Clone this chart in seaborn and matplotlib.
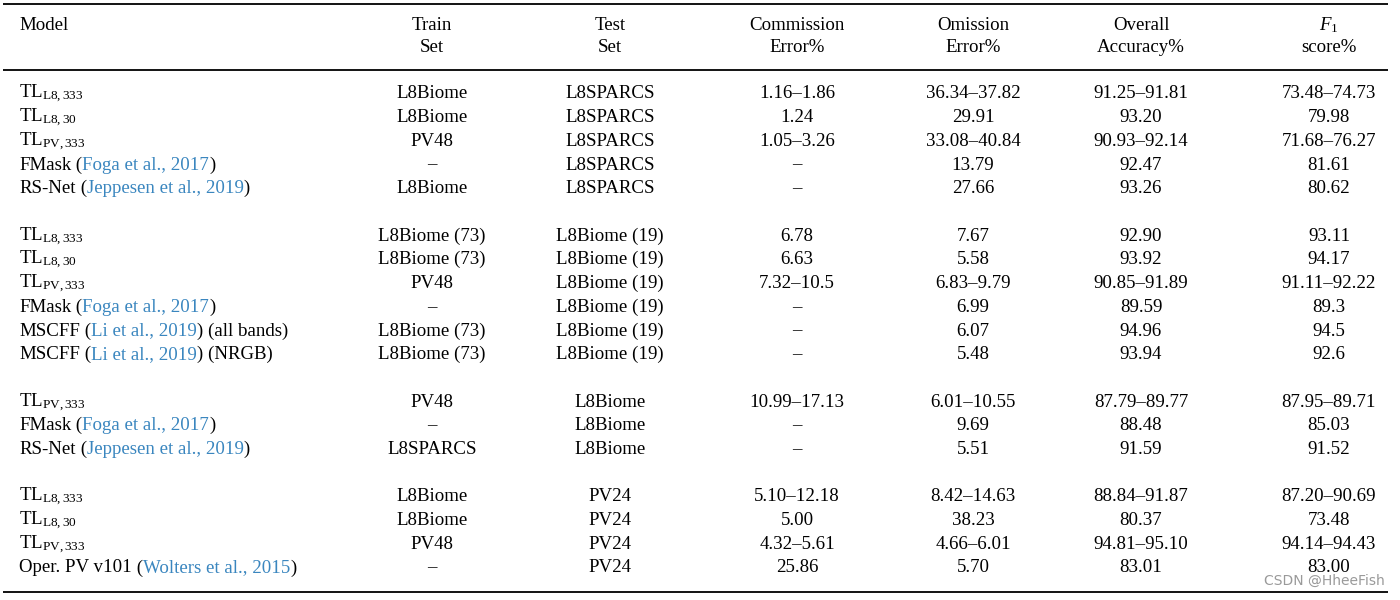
import matplotlib
matplotlib.use("Agg")
import matplotlib.pyplot as plt
import seaborn as sns

# %% table data

model_name = ["TL$_{\\mathrm{L8,333}}$", "TL$_{\\mathrm{L8,30}}$", "TL$_{\\mathrm{PV,333}}$",
              "FMask", "RS-Net",
              "TL$_{\\mathrm{L8,333}}$", "TL$_{\\mathrm{L8,30}}$", "TL$_{\\mathrm{PV,333}}$",
              "FMask", "MSCFF", "MSCFF",
              "TL$_{\\mathrm{PV,333}}$", "FMask", "RS-Net",
              "TL$_{\\mathrm{L8,333}}$", "TL$_{\\mathrm{L8,30}}$", "TL$_{\\mathrm{PV,333}}$",
              "Oper. PV v101"]
model_cite = ["", "", "", "Foga et al., 2017", "Jeppesen et al., 2019",
              "", "", "", "Foga et al., 2017", "Li et al., 2019", "Li et al., 2019",
              "", "Foga et al., 2017", "Jeppesen et al., 2019",
              "", "", "", "Wolters et al., 2015"]
model_suffix = ["", "", "", "", "",
                "", "", "", "", " (all bands)", " (NRGB)",
                "", "", "",
                "", "", "", ""]
group = [0, 0, 0, 0, 0, 1, 1, 1, 1, 1, 1, 2, 2, 2, 3, 3, 3, 3]

train_set = ["L8Biome", "L8Biome", "PV48", "–", "L8Biome",
             "L8Biome (73)", "L8Biome (73)", "PV48", "–", "L8Biome (73)", "L8Biome (73)",
             "PV48", "–", "L8SPARCS",
             "L8Biome", "L8Biome", "PV48", "–"]
test_set = ["L8SPARCS"] * 5 + ["L8Biome (19)"] * 6 + ["L8Biome"] * 3 + ["PV24"] * 4
commission = ["1.16–1.86", "1.24", "1.05–3.26", "–", "–",
              "6.78", "6.63", "7.32–10.5", "–", "–", "–",
              "10.99–17.13", "–", "–",
              "5.10–12.18", "5.00", "4.32–5.61", "25.86"]
omission = ["36.34–37.82", "29.91", "33.08–40.84", "13.79", "27.66",
            "7.67", "5.58", "6.83–9.79", "6.99", "6.07", "5.48",
            "6.01–10.55", "9.69", "5.51",
            "8.42–14.63", "38.23", "4.66–6.01", "5.70"]
overall = ["91.25–91.81", "93.20", "90.93–92.14", "92.47", "93.26",
           "92.90", "93.92", "90.85–91.89", "89.59", "94.96", "93.94",
           "87.79–89.77", "88.48", "91.59",
           "88.84–91.87", "80.37", "94.81–95.10", "83.01"]
f1_score = ["73.48–74.73", "79.98", "71.68–76.27", "81.61", "80.62",
            "93.11", "94.17", "91.11–92.22", "89.3", "94.5", "92.6",
            "87.95–89.71", "85.03", "91.52",
            "87.20–90.69", "73.48", "94.14–94.43", "83.00"]

headers_top = ["Train", "Test", "Commission", "Omission", "Overall", "$F_1$"]
headers_bot = ["Set", "Set", "Error%", "Error%", "Accuracy%", "score%"]

# %% drawing

sns.set_theme(style="white")
plt.rcParams["font.family"] = ["Liberation Serif", "DejaVu Serif"]
plt.rcParams["mathtext.fontset"] = "custom"
plt.rcParams["mathtext.rm"] = "Liberation Serif"
plt.rcParams["mathtext.it"] = "Liberation Serif:italic"

fs = 13.6
cite_col = "#3a86bf"
col_x = [432, 610, 797, 973, 1141, 1329]
columns = [train_set, test_set, commission, omission, overall, f1_score]

fig = plt.figure(figsize=(14, 6), dpi=100)
ax = fig.add_axes([0, 0, 1, 1])
ax.set_xlim(0, 1400)
ax.set_ylim(600, 0)
ax.axis("off")

for yl in [4, 70, 592]:
    ax.plot([3, 1388], [yl, yl], color="black", lw=1.3, solid_capstyle="butt")

ax.text(19, 25, "Model", fontsize=fs, va="center", ha="left", color="black")
for x, h1, h2 in zip(col_x, headers_top, headers_bot):
    ax.text(x, 25, h1, fontsize=fs, va="center", ha="center", color="black")
    ax.text(x, 48, h2, fontsize=fs, va="center", ha="center", color="black")

renderer = fig.canvas.get_renderer()
inv = ax.transData.inverted()

def piece(x, y, s, color):
    t = ax.text(x, y, s, fontsize=fs, va="baseline", ha="left", color=color)
    bb = t.get_window_extent(renderer)
    x0 = inv.transform((bb.x0, 0))[0]
    x1 = inv.transform((bb.x1, 0))[0]
    return x + (x1 - x0)

row_step = 23.7
for i in range(len(model_name)):
    pos = i + group[i]
    yc = 93 + pos * row_step
    yb = yc + 5.5
    x = piece(19, yb, model_name[i], "black")
    if model_cite[i]:
        x = piece(x, yb, " (", "black")
        x = piece(x, yb, model_cite[i], cite_col)
        x = piece(x, yb, ")" + model_suffix[i], "black")
    for cx, col in zip(col_x, columns):
        ax.text(cx, yb, col[i], fontsize=fs, va="baseline", ha="center", color="black")

ax.text(1385, 581, "CSDN @HheeFish", fontsize=10, family="DejaVu Sans",
        color="#9a9a9a", ha="right", va="center")

fig.savefig("out.png", dpi=100)
